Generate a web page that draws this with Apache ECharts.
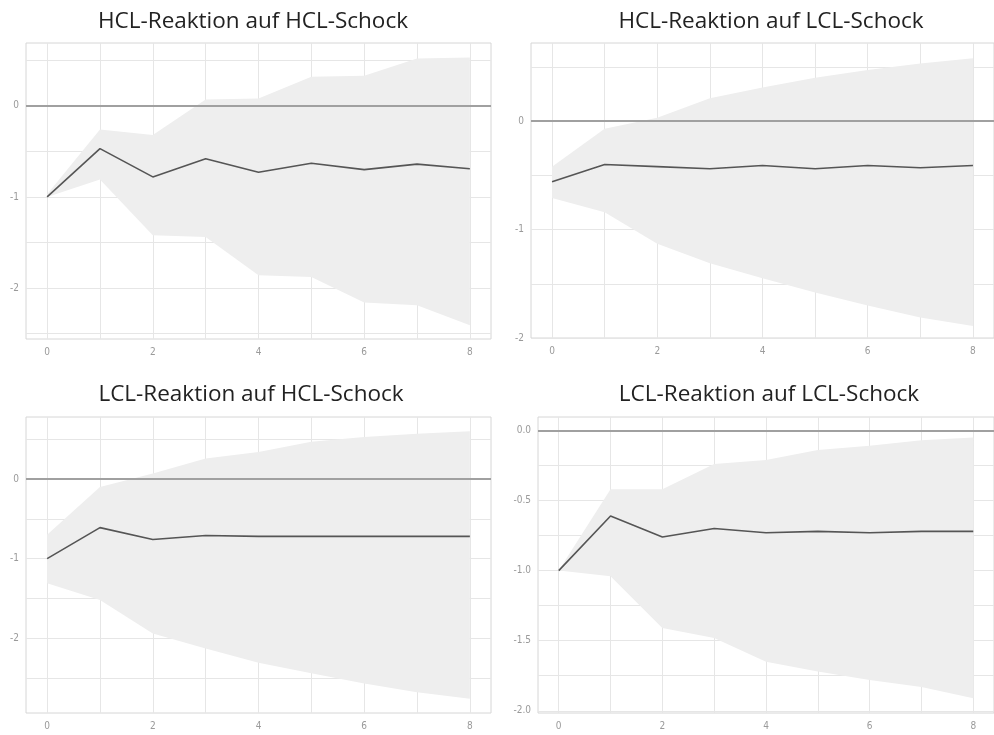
<!DOCTYPE html>
<html>
<head>
<meta charset="utf-8">
<script src="https://cdn.jsdelivr.net/npm/echarts@6/dist/echarts.min.js"></script>
<style>
html,body{margin:0;padding:0;background:#fff;}
#c{width:994px;height:735px;}
</style>
</head>
<body>
<div id="c"></div>
<script>
const titles = ["HCL-Reaktion auf HCL-Schock","HCL-Reaktion auf LCL-Schock","LCL-Reaktion auf HCL-Schock","LCL-Reaktion auf LCL-Schock"];
const horizons = [0,1,2,3,4,5,6,7,8];
const xLabels = [0,2,4,6,8];
const xGrid = [0,1,2,3,4,5,6,7,8];

const irf1 = [-1.00,-0.47,-0.78,-0.58,-0.73,-0.63,-0.70,-0.64,-0.69];
const up1  = [-0.97,-0.26,-0.32, 0.07, 0.08, 0.32, 0.33, 0.52, 0.53];
const lo1  = [-1.00,-0.81,-1.42,-1.44,-1.86,-1.88,-2.16,-2.19,-2.41];

const irf2 = [-0.56,-0.40,-0.42,-0.44,-0.41,-0.44,-0.41,-0.43,-0.41];
const up2  = [-0.42,-0.07, 0.03, 0.21, 0.31, 0.40, 0.47, 0.53, 0.58];
const lo2  = [-0.71,-0.84,-1.13,-1.31,-1.45,-1.58,-1.70,-1.81,-1.89];

const irf3 = [-1.00,-0.61,-0.76,-0.71,-0.72,-0.72,-0.72,-0.72,-0.72];
const up3  = [-0.70,-0.10, 0.07, 0.26, 0.34, 0.47, 0.53, 0.57, 0.60];
const lo3  = [-1.31,-1.52,-1.94,-2.13,-2.31,-2.44,-2.57,-2.68,-2.76];

const irf4 = [-1.00,-0.61,-0.76,-0.70,-0.73,-0.72,-0.73,-0.72,-0.72];
const up4  = [-1.00,-0.42,-0.42,-0.24,-0.21,-0.14,-0.11,-0.07,-0.05];
const lo4  = [-1.00,-1.04,-1.41,-1.48,-1.65,-1.72,-1.78,-1.83,-1.91];

const yLabels1 = [-2,-1,0];
const yGrid1 = [-2.5,-2,-1.5,-1,-0.5,0,0.5];
const yLabels2 = [-2,-1,0];
const yGrid2 = [-2,-1.5,-1,-0.5,0,0.5];
const yLabels3 = [-2,-1,0];
const yGrid3 = [-2.5,-2,-1.5,-1,-0.5,0,0.5];
const yLabels4 = [-2,-1.5,-1,-0.5,0];
const yGrid4 = [-2,-1.75,-1.5,-1.25,-1,-0.75,-0.5,-0.25,0];

const panels = [
  {irf:irf1, up:up1, lo:lo1, ymin:-2.56, ymax:0.69, yl:yLabels1, yg:yGrid1, dec:0,
   grid:{left:26, width:465, top:43, height:296}, tx:248, ty:5},
  {irf:irf2, up:up2, lo:lo2, ymin:-2.0, ymax:0.72, yl:yLabels2, yg:yGrid2, dec:0,
   grid:{left:531, width:463, top:43, height:295}, tx:766, ty:5},
  {irf:irf3, up:up3, lo:lo3, ymin:-2.94, ymax:0.78, yl:yLabels3, yg:yGrid3, dec:0,
   grid:{left:26, width:465, top:417, height:296}, tx:246, ty:378},
  {irf:irf4, up:up4, lo:lo4, ymin:-2.016, ymax:0.096, yl:yLabels4, yg:yGrid4, dec:1,
   grid:{left:538, width:456, top:417, height:296}, tx:764, ty:378}
];

const labelFont = {color:'#9a9a9a', fontSize:10, fontFamily:'"Liberation Sans Narrow","DejaVu Sans Condensed","Liberation Sans",sans-serif'};

const option = {
  animation:false,
  backgroundColor:'#fff',
  title:[], grid:[], xAxis:[], yAxis:[], series:[]
};

panels.forEach((p,i)=>{
  option.title.push({text:titles[i], left:p.tx, top:p.ty, textAlign:'center',
    textStyle:{fontFamily:'"Open Sans", sans-serif', fontWeight:'normal', fontSize:22.5, color:'#222'}});
  option.grid.push(Object.assign({show:true, borderColor:'#d6d6d6', borderWidth:1, backgroundColor:'transparent', containLabel:false}, p.grid));
  option.xAxis.push({type:'value', gridIndex:i, min:-0.4, max:8.4,
    axisLine:{show:false},
    axisTick:{show:false, customValues:xGrid},
    axisLabel:Object.assign({customValues:xLabels, margin:8}, labelFont),
    splitLine:{show:true, lineStyle:{color:'#e6e6e6', width:1}}
  });
  option.yAxis.push({type:'value', gridIndex:i, min:p.ymin, max:p.ymax,
    axisLine:{show:false},
    axisTick:{show:false, customValues:p.yg},
    axisLabel:Object.assign({customValues:p.yl, margin:7, formatter:(v)=>Number(v).toFixed(p.dec)}, labelFont),
    splitLine:{show:true, lineStyle:{color:'#e6e6e6', width:1}}
  });
  const up = p.up, lo = p.lo;
  option.series.push({
    type:'custom', xAxisIndex:i, yAxisIndex:i, z:1, silent:true,
    data:[[horizons[0], up[0]]],
    renderItem:(params, api)=>{
      const pts = [];
      for (let k=0;k<horizons.length;k++) pts.push(api.coord([horizons[k], up[k]]));
      for (let k=horizons.length-1;k>=0;k--) pts.push(api.coord([horizons[k], lo[k]]));
      return {type:'polygon', shape:{points:pts}, style:{fill:'#eeeeee', stroke:null}};
    }
  });
  option.series.push({
    type:'line', xAxisIndex:i, yAxisIndex:i, z:3, symbol:'none', silent:true,
    data:horizons.map((h,k)=>[h, p.irf[k]]),
    lineStyle:{color:'#555', width:1.6},
    markLine:{silent:true, symbol:'none', label:{show:false}, z:2,
      lineStyle:{color:'#a0a0a0', width:2, type:'solid'},
      data:[{yAxis:0}]}
  });
});

const chart = echarts.init(document.getElementById('c'), null, {renderer:'canvas'});
chart.setOption(option);
</script>
</body>
</html>
